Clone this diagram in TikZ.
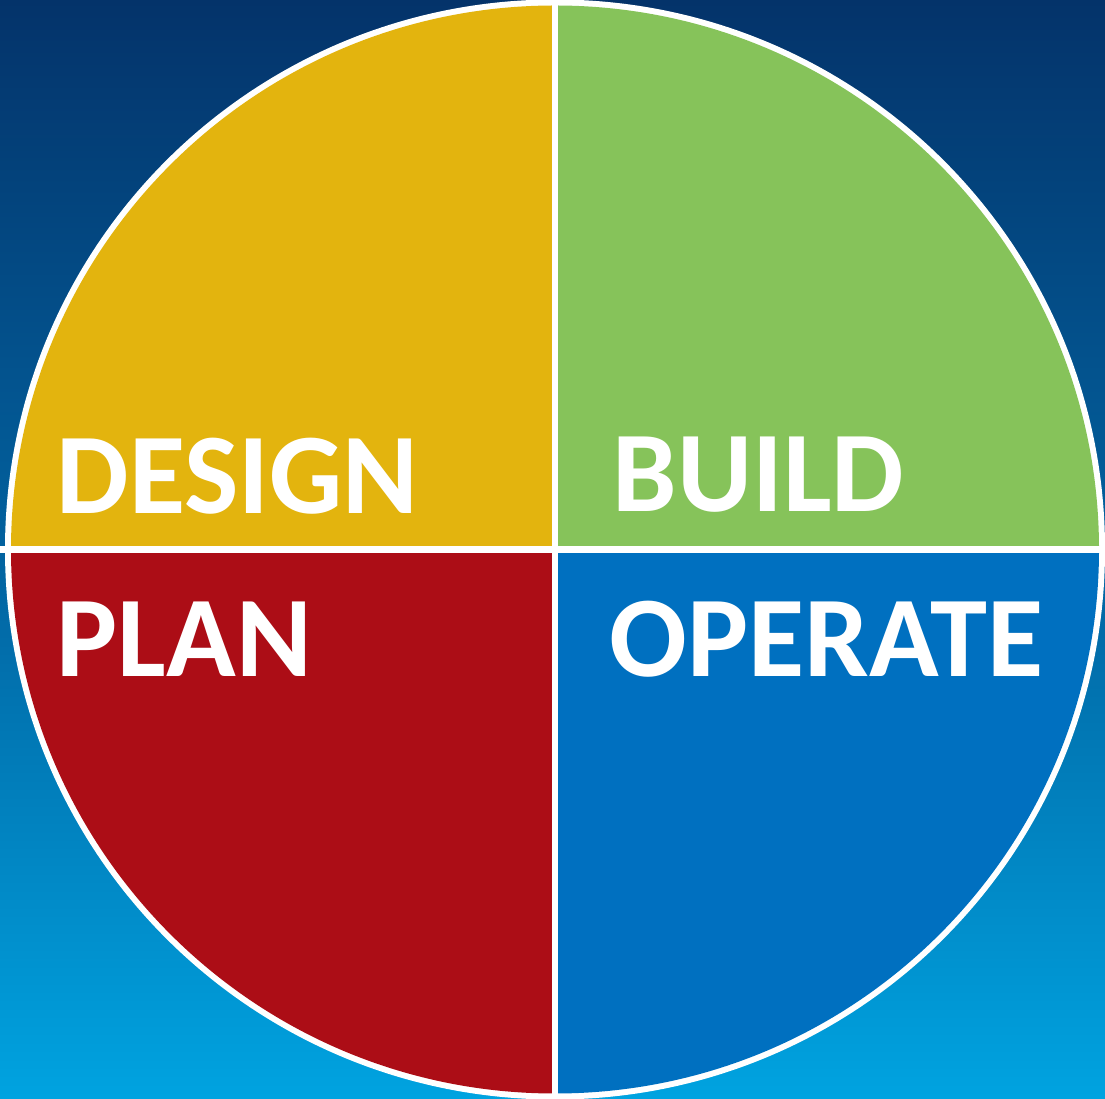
\documentclass[tikz,border=0pt]{standalone}
\usepackage{fontspec}
\setmainfont{Carlito}
\definecolor{bgtop}{HTML}{04336A}
\definecolor{bgmid}{HTML}{02629F}
\definecolor{bgbot}{HTML}{00A3E0}
\definecolor{qyellow}{HTML}{E3B40E}
\definecolor{qgreen}{HTML}{86C35A}
\definecolor{qred}{HTML}{AC0D16}
\definecolor{qblue}{HTML}{0070C0}
\tikzset{
  lbl/.style={anchor=base west, inner sep=0pt, text=white, font=\fontsize{115}{115}\selectfont\bfseries},
  divider/.style={draw=white, line width=6.5pt}
}
\begin{document}
\begin{tikzpicture}[x=1pt,y=1pt]
\useasboundingbox (0,0) rectangle (1105,1098);
\shade[top color=bgtop, bottom color=bgbot, middle color=bgmid] (0,0) rectangle (1105,1098);
\coordinate (c) at (555,548.5);
\begin{scope}
\clip (0,0) rectangle (1105,1098);
\fill[white] (c) circle[radius=550];
\begin{scope}
\clip (c) circle[radius=544];
\fill[qyellow] (c) rectangle ++(-560,560);
\fill[qgreen] (c) rectangle ++(560,560);
\fill[qred] (c) rectangle ++(-560,-560);
\fill[qblue] (c) rectangle ++(560,-560);
\end{scope}
\draw[divider] ([xshift=-560pt]c) -- ([xshift=560pt]c);
\draw[divider] ([yshift=-560pt]c) -- ([yshift=560pt]c);
\end{scope}
\node[lbl] (design) at (56.5,584) {DESIGN};
\node[lbl] (build) at (612.5,586) {BUILD};
\node[lbl] (plan) at (56.5,421) {PLAN};
\node[lbl] (operate) at (609.5,421) {OPERATE};
\end{tikzpicture}
\end{document}
